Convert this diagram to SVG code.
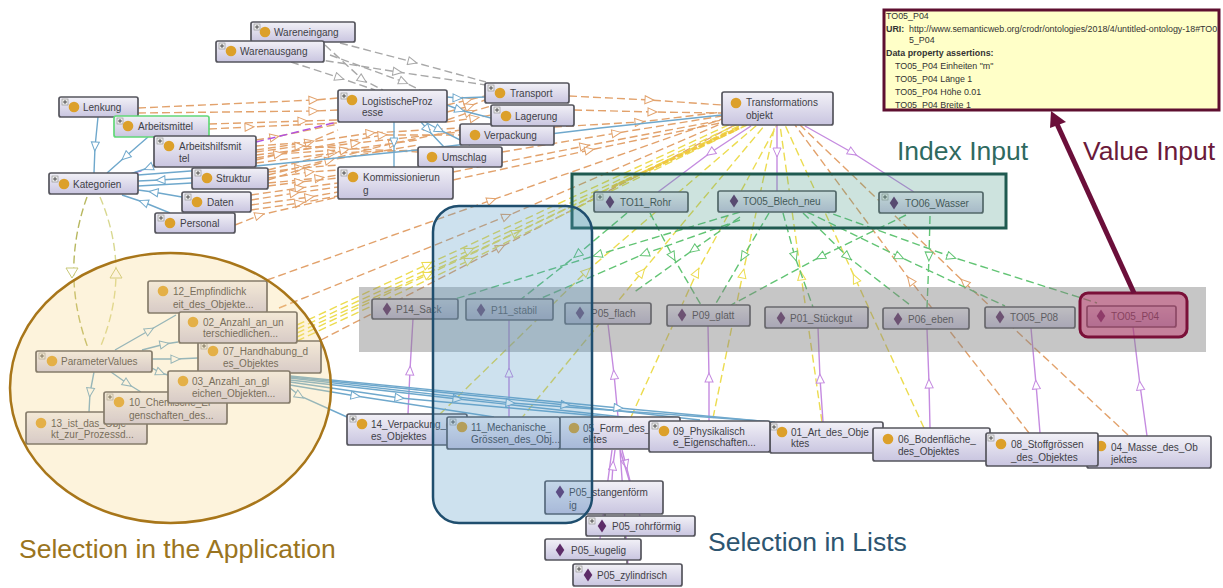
<svg xmlns="http://www.w3.org/2000/svg" width="1223" height="588" viewBox="0 0 1223 588">
<style>
text{font-family:"Liberation Sans",Arial,sans-serif;font-size:10px;fill:#3f3f47}
.n{fill:url(#g);stroke:#55555d;stroke-width:1.7}
.c{fill:#dca02a;r:5.3px}
.d{fill:#5d2c68}
.l{fill:none;stroke-width:1.4}
.dash{stroke-dasharray:8 4}
.o{stroke:#e2a26c;marker-mid:url(#mo)}
.y{stroke:#ecdc50;marker-mid:url(#my)}
.e{stroke:#62c474;marker-mid:url(#me)}
.a{stroke:#a8a8a8;marker-mid:url(#ma)}
.p{stroke:#c58be0;marker-mid:url(#mp)}
.b{stroke:#6fa8cc;marker-mid:url(#mb)}
.big{font-size:26.5px}
.pop{font-size:8.9px;fill:#333}
</style>
<defs>
<linearGradient id="g" x1="0" y1="0" x2="0" y2="1"><stop offset="0" stop-color="#f2f1f7"/><stop offset="1" stop-color="#c9c5e0"/></linearGradient>
<marker id="mo" markerWidth="12" markerHeight="10" refX="6" refY="5" orient="auto" markerUnits="userSpaceOnUse"><path d="M1 1L10 5L1 9Z" fill="#fff" stroke="#e2a26c" stroke-dasharray="none"/></marker>
<marker id="my" markerWidth="12" markerHeight="10" refX="6" refY="5" orient="auto" markerUnits="userSpaceOnUse"><path d="M1 1L10 5L1 9Z" fill="#fff" stroke="#ecdc50" stroke-dasharray="none"/></marker>
<marker id="me" markerWidth="12" markerHeight="10" refX="6" refY="5" orient="auto" markerUnits="userSpaceOnUse"><path d="M1 1L10 5L1 9Z" fill="#fff" stroke="#62c474" stroke-dasharray="none"/></marker>
<marker id="ma" markerWidth="12" markerHeight="10" refX="6" refY="5" orient="auto" markerUnits="userSpaceOnUse"><path d="M1 1L10 5L1 9Z" fill="#fff" stroke="#a8a8a8" stroke-dasharray="none"/></marker>
<marker id="mp" markerWidth="12" markerHeight="10" refX="6" refY="5" orient="auto" markerUnits="userSpaceOnUse"><path d="M1 1L10 5L1 9Z" fill="#fff" stroke="#c58be0"/></marker>
<marker id="mb" markerWidth="12" markerHeight="10" refX="6" refY="5" orient="auto" markerUnits="userSpaceOnUse"><path d="M1 1L10 5L1 9Z" fill="#fff" stroke="#6fa8cc"/></marker>
<g id="plus"><rect width="6" height="6" fill="#eee" stroke="#888" stroke-width=".6"/><path d="M1 3H5M3 1V5" stroke="#333" stroke-width=".8"/></g>
<path id="dia" d="M0 -6.5L4.3 0L0 6.5L-4.3 0Z"/>
</defs>
<g id="connectors">
<g class="l dash">
<path class="a" d="M340 43L413 62L486 82"/>
<path class="a" d="M302 57L398 72L486 85"/>
<path class="a" d="M325 45L363 80L383 90"/>
<path class="a" d="M330 55L404 82L420 90"/>
<path class="a" d="M291 62L340 78L375 90"/>
<path class="o" d="M138 108L314 100L338 98"/>
<path class="o" d="M138 113L314 111L338 110"/>
<path class="o" d="M209 124L303 121L338 120"/>
<path class="o" d="M209 129L250 127L338 123"/>
<path class="o" d="M256 140L275 137L338 124"/>
<path class="o" d="M256 146L310 142L338 130"/>
<path class="o" d="M256 150L371 133L460 128"/>
<path class="o" d="M256 155L356 143L460 132"/>
<path class="o" d="M256 158L383 135L460 135"/>
<path class="o" d="M256 160L279 154L338 150"/>
<path class="o" d="M256 163L333 153L418 150"/>
<path class="o" d="M256 152L300 146L418 152"/>
<path class="o" d="M268 172L300 168L338 165"/>
<path class="o" d="M268 175L394 143L460 130"/>
<path class="o" d="M268 178L310 172L338 170"/>
<path class="o" d="M268 183L320 178L338 175"/>
<path class="o" d="M268 186L300 182L338 178"/>
<path class="o" d="M268 170L345 150L418 140"/>
<path class="o" d="M268 180L330 160L418 145"/>
<path class="o" d="M251 195L300 188L338 183"/>
<path class="o" d="M251 200L295 193L338 187"/>
<path class="o" d="M251 205L310 197L338 192"/>
<path class="o" d="M251 210L300 203L338 196"/>
<path class="o" d="M235 225L260 215L338 197"/>
<path class="o" d="M447 105L468 100L485 96"/>
<path class="o" d="M447 120L470 112L491 106"/>
<path class="o" d="M447 112L470 106L485 100"/>
<path class="o" d="M447 122L475 118L491 115"/>
<path class="o" d="M453 172L585 146L722 120"/>
<path class="o" d="M453 180L590 150L725 122"/>
<path class="o" d="M502 152L617 133L722 116"/>
<path class="o" d="M554 127L640 122L722 112"/>
<path class="o" d="M574 110L653 112L722 113"/>
<path class="o" d="M569 96L650 100L722 105"/>
<path class="o" d="M267 280L492 200L725 118"/>
<path class="o" d="M279 308L507 216L725 122"/>
<path class="o" d="M321 340L501 247L735 125"/>
<path class="o" d="M1029 433L910 280L795 125"/>
<path class="o" d="M1128 435L964 282L800 125"/>
<path class="y" d="M297 325L428 264L735 122"/>
<path class="y" d="M297 329L470 250L738 124"/>
<path class="y" d="M297 333L517 232L741 125"/>
<path class="y" d="M297 337L429 274L744 125"/>
<path class="y" d="M297 341L470 260L747 125"/>
<path d="M612 187L739 128" fill="none" stroke="#f0c840" stroke-width="3" stroke-dasharray="6 2"/>
<path class="y" d="M440 414L587 271L757 125"/>
<path class="y" d="M520 420L642 272L765 125"/>
<path class="y" d="M631 417L697 272L777 125"/>
<path class="y" d="M713 418L743 273L775 125"/>
<path class="y" d="M822 422L801 275L780 125"/>
<path class="y" d="M924 428L855 278L785 125"/>
<path class="e" d="M650 213L673 257L701 305"/>
<path class="e" d="M627 213L577 255L520 300"/>
<path class="e" d="M740 212L597 255L455 299"/>
<path class="e" d="M740 220L644 254L537 300"/>
<path class="e" d="M740 217L693 250L633 293"/>
<path class="e" d="M769 213L743 257L715 305"/>
<path class="e" d="M783 213L795 257L813 307"/>
<path class="e" d="M803 213L848 257L910 305"/>
<path class="e" d="M906 215L820 257L731 305"/>
<path class="e" d="M930 216L929 257L927 308"/>
<path class="e" d="M807 212L900 257L1005 306"/>
<path class="e" d="M822 210L952 257L1097 303"/>
<path d="M134 173L153 167M256 142L337 122" fill="none" stroke="#b050e0"/>
<path d="M87 197Q60 272 88 348" fill="none" stroke="#b8b860"/>
<path d="M100 197Q132 272 100 348" fill="none" stroke="#d8d890"/>
</g>
<path d="M66 268l6 10l6-10zM116 268l-6 10h12z" fill="#fff" stroke="#c8c878"/>
<g class="l">
<path class="p" d="M751 126L710 153L658 192"/>
<path class="p" d="M777 125L777 153L777 191"/>
<path class="p" d="M805 126L853 153L914 192"/>
<path class="p" d="M408 414L410 370L413 319"/>
<path class="p" d="M509 417L509 372L509 320"/>
<path class="p" d="M618 417L614 374L608 324"/>
<path class="p" d="M709 421L709 377L708 326"/>
<path class="p" d="M823 422L820 378L818 328"/>
<path class="p" d="M930 428L929 383L927 329"/>
<path class="p" d="M1040 433L1036 384L1031 328"/>
<path class="p" d="M1147 436L1140 385L1133 327"/>
<path class="p" d="M612 480L613 465L615 450"/>
<path class="p" d="M622 450L626 465L630 481"/>
<path d="M620 450L640 516M612 450L600 539M620 450L628 564" stroke="#c58be0"/>
<path d="M605 514V517M625 536V540M627 560V565" stroke="#555"/>
<path class="b" d="M98 117L95 147L94 173"/>
<path class="b" d="M148 137L125 157L107 173"/>
<path class="b" d="M154 165L148 168L130 174"/>
<path class="b" d="M192 178L160 180L138 181"/>
<path d="M192 183L138 186" stroke="#6fa8cc"/>
<path class="b" d="M182 197L153 192L138 190"/>
<path class="b" d="M170 213L143 202L122 195"/>
<path d="M138 175L256 166L417 150L600 128L722 115" stroke="#6fa8cc"/>
<path class="b" d="M447 97L458 98L485 97"/>
<path class="b" d="M447 105L460 110L491 118"/>
<path class="b" d="M421 122L428 130L444 147"/>
<path class="b" d="M394 122L394 143L394 167"/>
<path class="b" d="M425 122L440 130L470 145"/>
<path class="b" d="M115 350L150 330L176 315"/>
<path class="b" d="M142 350L165 344L178 342"/>
<path class="b" d="M152 359L176 359L198 358"/>
<path class="b" d="M152 368L161 373L168 375"/>
<path class="b" d="M111 372L128 384L141 392"/>
<path class="b" d="M94 372L90 393L89 412"/>
<path class="b" d="M290 388L300 396L347 417"/>
<path class="b" d="M290 385L356 396L494 417"/>
<path class="b" d="M290 382L400 398L610 417"/>
<path class="b" d="M290 380L458 399L660 421"/>
<path class="b" d="M290 378L511 403L775 422"/>
<path class="b" d="M290 377L566 405L700 420"/>
<path class="b" d="M290 376L619 408L760 421"/>
</g>
</g>
<g id="n-wareneingang"><rect class="n" x="251" y="22" width="104" height="20" rx="2"/><use href="#plus" x="254" y="24"/><circle class="c" cx="265" cy="32"/><text x="274" y="36">Wareneingang</text></g>
<g id="n-warenausgang"><rect class="n" x="216" y="41" width="108" height="21" rx="2"/><use href="#plus" x="219" y="43"/><circle class="c" cx="231" cy="51"/><text x="240" y="55">Warenausgang</text></g>
<g id="n-lenkung"><rect class="n" x="59" y="97" width="79" height="20" rx="2"/><use href="#plus" x="62" y="99"/><circle class="c" cx="74" cy="107"/><text x="83" y="111">Lenkung</text></g>
<g id="n-arbeitsmittel"><rect class="n" x="114" y="116" width="95" height="21" rx="2" style="stroke:#62d878"/><use href="#plus" x="117" y="118"/><circle class="c" cx="128" cy="126"/><text x="138" y="130">Arbeitsmittel</text></g>
<g id="n-arbeitshilfsmittel"><rect class="n" x="154" y="136" width="102" height="31" rx="2"/><use href="#plus" x="157" y="138"/><circle class="c" cx="169" cy="146"/><text x="179" y="150">Arbeitshilfsmit</text><text x="179" y="162">tel</text></g>
<g id="n-kategorien"><rect class="n" x="49" y="173" width="89" height="21" rx="2"/><use href="#plus" x="52" y="176"/><circle class="c" cx="64" cy="184"/><text x="73" y="188">Kategorien</text></g>
<g id="n-struktur"><rect class="n" x="192" y="168" width="76" height="21" rx="2"/><use href="#plus" x="195" y="170"/><circle class="c" cx="207" cy="178"/><text x="216" y="182">Struktur</text></g>
<g id="n-daten"><rect class="n" x="182" y="192" width="69" height="20" rx="2"/><use href="#plus" x="185" y="194"/><circle class="c" cx="197" cy="202"/><text x="207" y="206">Daten</text></g>
<g id="n-personal"><rect class="n" x="155" y="213" width="80" height="20" rx="2"/><use href="#plus" x="158" y="215"/><circle class="c" cx="170" cy="223"/><text x="180" y="227">Personal</text></g>
<g id="n-logistische"><rect class="n" x="338" y="90" width="109" height="32" rx="2"/><use href="#plus" x="341" y="93"/><circle class="c" cx="352" cy="100"/><text x="362" y="105">LogistischeProz</text><text x="362" y="116">esse</text></g>
<g id="n-transport"><rect class="n" x="485" y="83" width="84" height="20" rx="2"/><use href="#plus" x="488" y="85"/><circle class="c" cx="500" cy="93"/><text x="510" y="97">Transport</text></g>
<g id="n-verpackung"><rect class="n" x="460" y="124" width="94" height="21" rx="2"/><circle class="c" cx="475" cy="135"/><text x="484" y="139">Verpackung</text></g>
<g id="n-lagerung"><rect class="n" x="491" y="105" width="83" height="21" rx="2"/><use href="#plus" x="494" y="107"/><circle class="c" cx="506" cy="116"/><text x="515" y="120">Lagerung</text></g>
<g id="n-umschlag"><rect class="n" x="418" y="147" width="84" height="20" rx="2"/><circle class="c" cx="432" cy="157"/><text x="442" y="161">Umschlag</text></g>
<g id="n-kommissionierung"><rect class="n" x="338" y="167" width="115" height="32" rx="2"/><use href="#plus" x="341" y="170"/><circle class="c" cx="353" cy="177"/><text x="363" y="181">Kommissionierun</text><text x="363" y="194">g</text></g>
<g id="n-transformationsobjekt"><rect class="n" x="722" y="92" width="111" height="33" rx="2"/><circle class="c" cx="736" cy="103"/><text x="746" y="106">Transformations</text><text x="746" y="119">objekt</text></g>
<g id="n-to11"><rect class="n" x="594" y="192" width="94" height="20" rx="2"/><use href="#plus" x="597" y="194"/><use href="#dia" class="d" x="610" y="202"/><text x="620" y="206">TO11_Rohr</text></g>
<g id="n-to05blech"><rect class="n" x="718" y="191" width="118" height="21" rx="2"/><use href="#dia" class="d" x="734" y="201"/><text x="743" y="205">TO05_Blech_neu</text></g>
<g id="n-to06"><rect class="n" x="879" y="192" width="104" height="21" rx="2"/><use href="#plus" x="882" y="194"/><use href="#dia" class="d" x="894" y="203"/><text x="905" y="207">TO06_Wasser</text></g>
<g id="n-p14"><rect class="n" x="372" y="299" width="86" height="20" rx="2"/><use href="#dia" class="d" x="387" y="309"/><text x="396" y="313">P14_Sack</text></g>
<g id="n-p11"><rect class="n" x="466" y="299" width="87" height="21" rx="2"/><use href="#dia" class="d" x="481" y="310"/><text x="491" y="314">P11_stabil</text></g>
<g id="n-p05flach"><rect class="n" x="565" y="303" width="86" height="21" rx="2"/><use href="#dia" class="d" x="580" y="313"/><text x="591" y="317">P05_flach</text></g>
<g id="n-p09"><rect class="n" x="667" y="305" width="83" height="21" rx="2"/><use href="#dia" class="d" x="682" y="315"/><text x="692" y="319">P09_glatt</text></g>
<g id="n-p01"><rect class="n" x="765" y="307" width="103" height="21" rx="2"/><use href="#dia" class="d" x="781" y="318"/><text x="790" y="322">P01_Stückgut</text></g>
<g id="n-p06"><rect class="n" x="883" y="308" width="86" height="21" rx="2"/><use href="#dia" class="d" x="898" y="319"/><text x="908" y="323">P06_eben</text></g>
<g id="n-p08"><rect class="n" x="985" y="307" width="90" height="21" rx="2"/><use href="#dia" class="d" x="1000" y="317"/><text x="1010" y="321">TO05_P08</text></g>
<g id="n-p04"><rect class="n" x="1087" y="306" width="89" height="21" rx="2"/><use href="#dia" class="d" x="1101" y="316"/><text x="1111" y="320">TO05_P04</text></g>
<g id="n-13"><rect class="n" x="26" y="412" width="121" height="32" rx="2"/><circle class="c" cx="41" cy="423"/><text x="51" y="427">13_ist_das_Obje</text><text x="51" y="438">kt_zur_Prozessd...</text></g>
<g id="n-10"><rect class="n" x="104" y="392" width="123" height="32" rx="2"/><use href="#plus" x="107" y="394"/><circle class="c" cx="119" cy="402"/><text x="129" y="406">10_Chemische_Ei</text><text x="129" y="419">genschaften_des...</text></g>
<g id="n-12"><rect class="n" x="148" y="281" width="119" height="32" rx="2"/><circle class="c" cx="163" cy="291"/><text x="173" y="295">12_Empfindlichk</text><text x="173" y="308">eit_des_Objekte...</text></g>
<g id="n-07"><rect class="n" x="198" y="341" width="123" height="32" rx="2"/><use href="#plus" x="201" y="343"/><circle class="c" cx="213" cy="351"/><text x="223" y="355">07_Handhabung_d</text><text x="223" y="367">es_Objektes</text></g>
<g id="n-02"><rect class="n" x="179" y="312" width="118" height="31" rx="2"/><circle class="c" cx="193" cy="322"/><text x="203" y="326">02_Anzahl_an_un</text><text x="203" y="337">terschiedlichen...</text></g>
<g id="n-parametervalues"><rect class="n" x="36" y="351" width="116" height="21" rx="2"/><use href="#plus" x="39" y="353"/><circle class="c" cx="52" cy="361"/><text x="61" y="365">ParameterValues</text></g>
<g id="n-03"><rect class="n" x="168" y="371" width="122" height="32" rx="2"/><circle class="c" cx="183" cy="381"/><text x="192" y="385">03_Anzahl_an_gl</text><text x="192" y="397">eichen_Objekten...</text></g>
<g id="n-14"><rect class="n" x="347" y="414" width="120" height="31" rx="2"/><use href="#plus" x="350" y="416"/><circle class="c" cx="362" cy="424"/><text x="371" y="428">14_Verpackung_d</text><text x="371" y="440">es_Objektes</text></g>
<g id="n-05"><rect class="n" x="559" y="417" width="121" height="32" rx="2"/><circle class="c" cx="574" cy="428"/><text x="583" y="432">05_Form_des_Obj</text><text x="583" y="443">ektes</text></g>
<g id="n-11"><rect class="n" x="447" y="417" width="113" height="32" rx="2"/><use href="#plus" x="450" y="419"/><circle class="c" cx="462" cy="427"/><text x="471" y="431">11_Mechanische_</text><text x="471" y="443">Grössen_des_Obj...</text></g>
<g id="n-01"><rect class="n" x="770" y="422" width="113" height="31" rx="2"/><use href="#plus" x="771" y="424"/><circle class="c" cx="782" cy="432"/><text x="791" y="436">01_Art_des_Obje</text><text x="791" y="447">ktes</text></g>
<g id="n-09"><rect class="n" x="649" y="421" width="121" height="31" rx="2"/><use href="#plus" x="652" y="423"/><circle class="c" cx="664" cy="431"/><text x="673" y="435">09_Physikalisch</text><text x="673" y="446">e_Eigenschaften...</text></g>
<g id="n-04"><rect class="n" x="1087" y="436" width="124" height="32" rx="2"/><circle class="c" cx="1101" cy="446"/><text x="1111" y="451">04_Masse_des_Ob</text><text x="1111" y="463">jektes</text></g>
<g id="n-06"><rect class="n" x="873" y="428" width="117" height="33" rx="2"/><circle class="c" cx="888" cy="439"/><text x="898" y="443">06_Bodenfläche_</text><text x="898" y="455">des_Objektes</text></g>
<g id="n-08"><rect class="n" x="986" y="433" width="112" height="33" rx="2"/><use href="#plus" x="988" y="435"/><circle class="c" cx="1001" cy="444"/><text x="1011" y="448">08_Stoffgrössen</text><text x="1011" y="461">_des_Objektes</text></g>
<g id="n-p05st"><rect class="n" x="545" y="481" width="118" height="33" rx="2"/><use href="#dia" class="d" x="560" y="492"/><text x="569" y="496">P05_stangenförm</text><text x="569" y="509">ig</text></g>
<g id="n-p05rohr"><rect class="n" x="586" y="516" width="109" height="20" rx="2"/><use href="#plus" x="589" y="518"/><use href="#dia" class="d" x="602" y="526"/><text x="612" y="530">P05_rohrförmig</text></g>
<g id="n-p05kugelig"><rect class="n" x="545" y="539" width="96" height="21" rx="2"/><use href="#dia" class="d" x="560" y="550"/><text x="571" y="554">P05_kugelig</text></g>
<g id="n-p05zyl"><rect class="n" x="573" y="564" width="109" height="22" rx="2"/><use href="#plus" x="576" y="566"/><use href="#dia" class="d" x="588" y="575"/><text x="597" y="579">P05_zylindrisch</text></g>
<g id="n-info">
<rect x="884" y="10" width="335" height="100" fill="#ffffc8" stroke="#5e0f30" stroke-width="3"/>
<text class="pop" x="886" y="19">TO05_P04</text>
<text class="pop" x="886" y="32" style="font-weight:bold">URI:</text>
<text class="pop" x="909" y="32">http://www.semanticweb.org/crodr/ontologies/2018/4/untitled-ontology-18#TO0</text>
<text class="pop" x="909" y="43">5_P04</text>
<text class="pop" x="886" y="56" style="font-weight:bold">Data property assertions:</text>
<text class="pop" x="895" y="69">TO05_P04 Einheiten "m"</text>
<text class="pop" x="895" y="82">TO05_P04 Länge 1</text>
<text class="pop" x="895" y="95">TO05_P04 Höhe 0.01</text>
<text class="pop" x="895" y="108">TO05_P04 Breite 1</text>
</g>
<g id="overlays">
<rect x="359" y="287" width="847" height="65" fill="#808080" fill-opacity=".45"/>
<rect x="572" y="174" width="434" height="54" fill="#4d9a8a" fill-opacity=".28" stroke="#1f5a50" stroke-width="3"/>
<rect x="433" y="206" width="159" height="317" rx="26" fill="#5b9bc8" fill-opacity=".3" stroke="#1f4e6e" stroke-width="2.5"/>
<ellipse cx="170.5" cy="388" rx="160.5" ry="135" fill="#f9d78a" fill-opacity=".3" stroke="#a8761a" stroke-width="2.5"/>
<rect x="1080" y="293" width="107" height="44" rx="8" fill="#c2185b" fill-opacity=".4" stroke="#7a1038" stroke-width="3"/>
<path d="M1134 293L1057 124" stroke="#6b0f3a" stroke-width="5" fill="none"/>
<path d="M1051 111L1066 122L1050 128Z" fill="#6b0f3a"/>
</g>
<g id="labels">
<text class="big" x="897" y="160" style="fill:#2f6a5f">Index Input</text>
<text class="big" x="1083" y="160" style="fill:#6b1a3a">Value Input</text>
<text class="big" x="19" y="558" style="fill:#9a7420">Selection in the Application</text>
<text class="big" x="708" y="551" style="fill:#2d5570">Selection in Lists</text>
</g>
</svg>
